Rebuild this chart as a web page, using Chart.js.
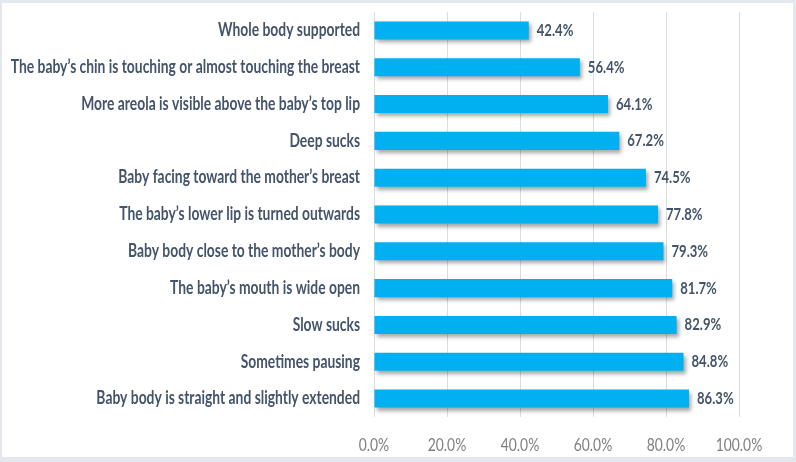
<!DOCTYPE html>
<html>
<head>
<meta charset="utf-8">
<script src="https://cdn.jsdelivr.net/npm/chart.js@4"></script>
<style>
  html, body { margin: 0; padding: 0; background: #fff; }
  #wrap { width: 796px; height: 462px; }
</style>
</head>
<body>
<div id="wrap"><canvas id="myChart" width="796" height="462"></canvas></div>
<script>
"use strict";

const categories = [
  "Whole body supported",
  "The baby\u2019s chin is touching or almost touching the breast",
  "More areola is visible above the baby\u2019s top lip",
  "Deep sucks",
  "Baby facing toward the mother\u2019s breast",
  "The baby\u2019s lower lip is turned outwards",
  "Baby body close to the mother\u2019s body",
  "The baby\u2019s mouth is wide open",
  "Slow sucks",
  "Sometimes pausing",
  "Baby body is straight and slightly extended"
];
const values = [42.4, 56.4, 64.1, 67.2, 74.5, 77.8, 79.3, 81.7, 82.9, 84.8, 86.3];
const xTicks = [0, 20, 40, 60, 80, 100];

// the original text is a narrow Calibri, squeeze Lato horizontally to get close
const SQUASH = 0.77;
const FONT = "Lato, 'DejaVu Sans', sans-serif";

function drawSquashed(ctx, text, x, y, align) {
  ctx.save();
  ctx.translate(x, y);
  ctx.scale(SQUASH, 1);
  ctx.textAlign = align;
  ctx.textBaseline = "middle";
  ctx.fillText(text, 0, 0);
  ctx.restore();
}

// Frame around the whole picture
const framePlugin = {
  id: "frame",
  beforeDraw(chart) {
    const ctx = chart.ctx;
    ctx.save();
    ctx.fillStyle = "#e3e8ef";
    ctx.fillRect(0, 0, chart.width, chart.height);
    ctx.fillStyle = "#ffffff";
    ctx.fillRect(2, 3, chart.width - 5, chart.height - 8);
    ctx.restore();
  }
};

// Soft shadow under the bars
const shadowPlugin = {
  id: "barShadow",
  beforeDatasetDraw(chart) {
    const ctx = chart.ctx;
    ctx.save();
    ctx.shadowColor = "rgba(0, 0, 0, 0.35)";
    ctx.shadowBlur = 4;
    ctx.shadowOffsetX = 2;
    ctx.shadowOffsetY = 3;
  },
  afterDatasetDraw(chart) {
    chart.ctx.restore();
  }
};

// Category names, x tick labels and value labels
const textPlugin = {
  id: "texts",
  afterDatasetsDraw(chart) {
    const ctx = chart.ctx;
    const xScale = chart.scales.x;
    const yScale = chart.scales.y;
    const meta = chart.getDatasetMeta(0);

    ctx.save();
    ctx.fillStyle = "#44546a";
    ctx.font = "bold 18px " + FONT;
    categories.forEach((name, i) => {
      drawSquashed(ctx, name, yScale.right - 14, yScale.getPixelForTick(i), "right");
    });

    ctx.font = "bold 17px " + FONT;
    meta.data.forEach((bar, i) => {
      drawSquashed(ctx, values[i].toFixed(1) + "%", bar.x + 8, bar.y, "left");
    });

    ctx.fillStyle = "#7f7f7f";
    ctx.font = "18px " + FONT;
    xTicks.forEach(v => {
      drawSquashed(ctx, v.toFixed(1) + "%", xScale.getPixelForValue(v), chart.chartArea.bottom + 28, "center");
    });
    ctx.restore();
  }
};

const ctx = document.getElementById("myChart").getContext("2d");

new Chart(ctx, {
  type: "bar",
  data: {
    labels: categories,
    datasets: [
      {
        data: values,
        backgroundColor: "#00b0f0",
        borderWidth: 0,
        barPercentage: 0.49,
        categoryPercentage: 1
      }
    ]
  },
  options: {
    indexAxis: "y",
    responsive: false,
    animation: false,
    layout: {
      padding: { left: 0, right: 57, top: 12, bottom: 0 }
    },
    plugins: {
      legend: { display: false },
      tooltip: { enabled: false }
    },
    scales: {
      x: {
        min: 0,
        max: 100,
        afterBuildTicks(scale) {
          scale.ticks = xTicks.map(v => ({ value: v }));
        },
        afterFit(scale) {
          scale.height = 45;
          scale.paddingLeft = 0;
          scale.paddingRight = 0;
        },
        grid: {
          color: "#d9dde3",
          drawTicks: false
        },
        border: { display: false },
        ticks: { display: false }
      },
      y: {
        afterFit(scale) {
          scale.width = 374;
          scale.paddingTop = 0;
          scale.paddingBottom = 0;
        },
        grid: { display: false },
        border: { display: false },
        ticks: { display: false }
      }
    }
  },
  plugins: [framePlugin, shadowPlugin, textPlugin]
});
</script>
</body>
</html>
